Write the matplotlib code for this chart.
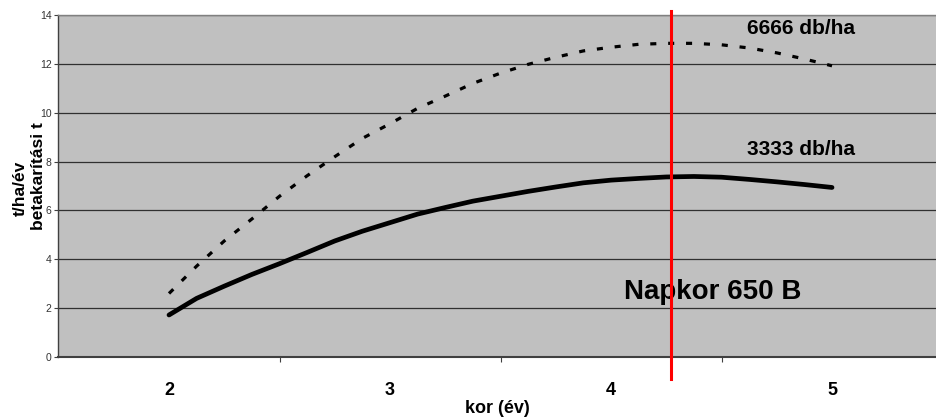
import matplotlib
matplotlib.use("Agg")
import matplotlib.pyplot as plt
import matplotlib.transforms as mtransforms

plt.rcParams['font.family'] = ['Liberation Sans', 'DejaVu Sans']

# data
age = [2.0, 2.125, 2.25, 2.375, 2.5, 2.625, 2.75, 2.875, 3.0, 3.125, 3.25, 3.375, 3.5,
       3.625, 3.75, 3.875, 4.0, 4.125, 4.25, 4.375, 4.5, 4.625, 4.75, 4.875, 5.0]
yield_3333 = [1.72, 2.4, 2.9, 3.38, 3.82, 4.28, 4.75, 5.15, 5.5, 5.85, 6.12, 6.38, 6.58,
              6.78, 6.96, 7.13, 7.24, 7.31, 7.37, 7.39, 7.36, 7.27, 7.17, 7.06, 6.94]
yield_6666 = [2.6, 3.72, 4.75, 5.65, 6.58, 7.42, 8.2, 8.95, 9.55, 10.18, 10.68, 11.2, 11.62,
              11.98, 12.27, 12.53, 12.68, 12.8, 12.84, 12.84, 12.78, 12.65, 12.45, 12.2, 11.92]
categories = [2, 3, 4, 5]
napkor_age = 4.27
y_ticks = [0, 2, 4, 6, 8, 10, 12, 14]

fig = plt.figure(figsize=(9.37, 4.2), dpi=100)
ax = fig.add_axes([58.5 / 937, 63 / 420, (937 - 58.5) / 937, 342 / 420])
ax.set_facecolor('#C0C0C0')

ax.plot(age, yield_6666, color='black', lw=2.3, dashes=(1.9, 3.7), solid_capstyle='butt')
ax.plot(age, yield_3333, color='black', lw=3.4, solid_capstyle='round')

# red marker line, runs past the plot area
trans = mtransforms.blended_transform_factory(ax.transData, ax.transAxes)
ax.plot([napkor_age, napkor_age], [-0.064, 1.012], color='#FF0000', lw=2.2,
        transform=trans, clip_on=False, zorder=5)

ax.set_xlim(1.5, 5.475)
ax.set_ylim(0, 14)

ax.set_yticks(y_ticks)
ax.yaxis.grid(True, color='#303030', lw=0.9)
ax.set_axisbelow(True)
ax.tick_params(axis='y', direction='out', length=3, width=0.8, color='#404040',
               labelsize=7.5, labelcolor='#333333', pad=2)

ax.set_xticks(categories)
ax.set_xticklabels([str(c) for c in categories], fontweight='bold')
ax.set_xticks([2.5, 3.5, 4.5], minor=True)
ax.tick_params(axis='x', which='major', length=0, labelsize=13, pad=18)
ax.tick_params(axis='x', which='minor', direction='out', length=3.6, width=0.8, color='#404040')

ax.spines['right'].set_visible(False)
ax.spines['top'].set_color('#808080')
ax.spines['top'].set_linewidth(1.0)
ax.spines['bottom'].set_color('#404040')
ax.spines['bottom'].set_linewidth(1.5)
ax.spines['left'].set_color('#404040')
ax.spines['left'].set_linewidth(1.0)

ax.set_xlabel('kor (év)', fontsize=13, fontweight='bold', labelpad=1)

fig.text(20 / 937, 1 - 188 / 420, 't/ha/év', rotation=90, ha='center', va='center',
         fontsize=12.5, fontweight='bold')
fig.text(38.5 / 937, 1 - 176 / 420, 'betakarítási t', rotation=90, ha='center', va='center',
         fontsize=12.5, fontweight='bold')

ax.text(4.615, 13.43, '6666 db/ha', fontsize=15, fontweight='bold', va='center', ha='left')
ax.text(4.615, 8.49, '3333 db/ha', fontsize=15, fontweight='bold', va='center', ha='left')
ax.text(4.059, 2.66, 'Napkor 650 B', fontsize=20, fontweight='bold', va='center', ha='left')

fig.savefig('out.png', dpi=100)
